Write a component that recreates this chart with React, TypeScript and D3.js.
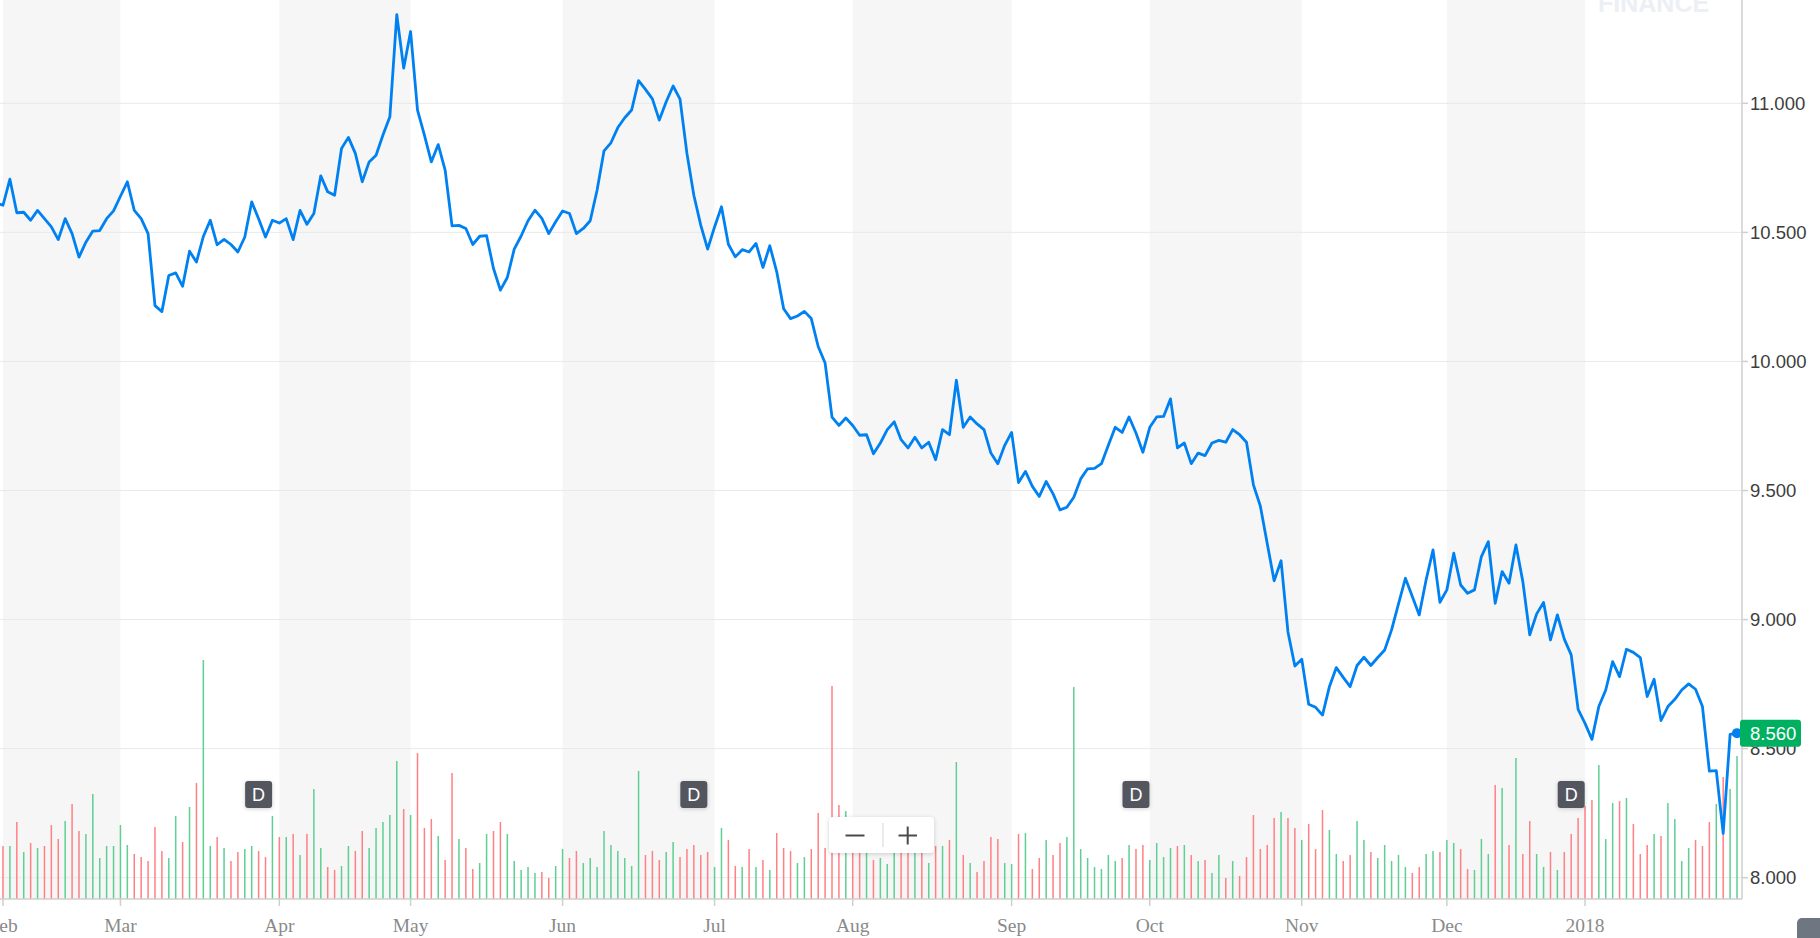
import * as d3 from 'd3';

const width = 1820;
const height = 938;
const plotRight = 1742;
const plotBottom = 899;

// closing prices, first value is the day before the first bar (index -1)
const closes = [
  10.615,
  10.605, 10.706, 10.576, 10.578, 10.547, 10.585, 10.553, 10.521, 10.472, 10.553,
  10.495, 10.404, 10.462, 10.505, 10.507, 10.553, 10.583, 10.64, 10.696, 10.585,
  10.553, 10.495, 10.216, 10.193, 10.333, 10.343, 10.291, 10.427, 10.385, 10.484,
  10.547, 10.452, 10.473, 10.453, 10.424, 10.482, 10.618, 10.553, 10.482, 10.547,
  10.536, 10.553, 10.472, 10.585, 10.531, 10.573, 10.719, 10.657, 10.644, 10.825,
  10.868, 10.806, 10.696, 10.773, 10.799, 10.877, 10.948, 11.343, 11.136, 11.278,
  10.974, 10.877, 10.773, 10.84, 10.741, 10.525, 10.527, 10.515, 10.453, 10.485,
  10.487, 10.36, 10.276, 10.325, 10.435, 10.486, 10.545, 10.586, 10.554, 10.495,
  10.541, 10.583, 10.573, 10.495, 10.515, 10.545, 10.664, 10.816, 10.847, 10.906,
  10.944, 10.974, 11.088, 11.054, 11.017, 10.935, 11.006, 11.067, 11.016, 10.806,
  10.644, 10.528, 10.435, 10.521, 10.599, 10.454, 10.405, 10.433, 10.424, 10.457,
  10.364, 10.448, 10.347, 10.204, 10.166, 10.176, 10.194, 10.166, 10.058, 9.994,
  9.784, 9.752, 9.781, 9.752, 9.714, 9.716, 9.642, 9.684, 9.736, 9.766,
  9.697, 9.665, 9.706, 9.665, 9.687, 9.619, 9.736, 9.716, 9.927, 9.745,
  9.785, 9.758, 9.736, 9.645, 9.604, 9.675, 9.725, 9.531, 9.574, 9.516,
  9.477, 9.535, 9.487, 9.425, 9.435, 9.474, 9.545, 9.584, 9.586, 9.604,
  9.675, 9.745, 9.725, 9.785, 9.723, 9.648, 9.745, 9.785, 9.787, 9.855,
  9.665, 9.684, 9.604, 9.645, 9.635, 9.684, 9.694, 9.687, 9.736, 9.716,
  9.687, 9.522, 9.44, 9.295, 9.15, 9.228, 8.952, 8.82, 8.846, 8.672,
  8.66, 8.63, 8.74, 8.814, 8.776, 8.74, 8.822, 8.854, 8.822, 8.853,
  8.882, 8.96, 9.061, 9.16, 9.089, 9.018, 9.154, 9.27, 9.067, 9.115,
  9.257, 9.134, 9.102, 9.115, 9.244, 9.302, 9.063, 9.186, 9.141, 9.289,
  9.147, 8.941, 9.022, 9.066, 8.921, 9.018, 8.924, 8.863, 8.652, 8.598,
  8.536, 8.663, 8.727, 8.837, 8.779, 8.885, 8.873, 8.853, 8.702, 8.769,
  8.609, 8.663, 8.691, 8.727, 8.751, 8.73, 8.663, 8.413, 8.415, 8.172,
  8.555, 8.56,
];

// volume (millions), same indexing as closes
const volumes = [
  5.0,
  5.3, 5.3, 7.7, 4.7, 5.6, 5.1, 5.3, 7.4, 6.0, 7.8,
  9.5, 6.8, 6.5, 10.5, 4.1, 5.3, 5.3, 7.4, 5.4, 4.5,
  4.2, 3.8, 7.2, 4.8, 4.1, 8.3, 5.7, 9.2, 11.6, 23.9,
  5.3, 6.2, 5.1, 3.8, 4.7, 5.0, 5.3, 4.8, 4.2, 8.3,
  6.2, 6.2, 6.5, 4.4, 6.5, 11.0, 5.1, 3.2, 2.9, 3.3,
  5.3, 4.8, 6.8, 5.1, 7.1, 7.7, 8.4, 13.8, 9.0, 8.4,
  14.6, 7.1, 8.0, 6.3, 3.9, 12.6, 6.0, 5.1, 3.0, 3.6,
  6.5, 6.8, 7.7, 6.5, 3.8, 2.9, 3.2, 2.6, 2.7, 2.1,
  3.3, 5.0, 4.1, 4.8, 3.6, 4.1, 3.2, 6.8, 5.4, 4.8,
  4.1, 3.3, 12.8, 4.4, 4.8, 3.9, 4.7, 5.7, 4.2, 5.0,
  5.4, 4.4, 4.7, 3.2, 7.1, 5.9, 3.3, 3.2, 5.0, 3.2,
  3.9, 2.9, 6.6, 5.1, 4.8, 3.6, 4.2, 5.0, 8.6, 5.1,
  21.3, 9.4, 8.8, 5.5, 5.5, 5.5, 3.9, 4.1, 3.5, 5.5,
  5.5, 5.5, 5.5, 5.5, 3.6, 5.3, 5.3, 5.9, 13.7, 4.4,
  3.6, 2.7, 3.8, 6.2, 6.0, 3.6, 3.5, 6.5, 6.6, 3.0,
  4.1, 5.9, 4.4, 5.6, 6.2, 21.2, 5.0, 4.1, 3.2, 3.0,
  4.4, 3.8, 4.1, 5.4, 5.0, 5.4, 3.9, 5.6, 4.2, 5.1,
  5.3, 5.4, 4.4, 3.8, 3.9, 2.6, 4.4, 2.1, 3.8, 2.3,
  4.2, 8.4, 5.0, 5.4, 8.1, 8.7, 8.1, 7.1, 5.9, 7.5,
  5.0, 8.9, 6.9, 4.5, 3.8, 4.4, 7.8, 5.9, 4.7, 4.1,
  5.4, 3.8, 4.4, 3.2, 2.6, 3.2, 4.5, 4.8, 4.7, 5.9,
  5.6, 5.0, 3.0, 2.9, 6.0, 4.5, 11.4, 11.1, 5.4, 14.1,
  4.5, 7.8, 4.5, 3.2, 4.7, 2.9, 4.7, 6.5, 8.1, 9.3,
  9.9, 13.4, 6.0, 9.6, 9.8, 10.1, 7.5, 4.5, 5.4, 6.5,
  6.3, 9.6, 8.0, 3.8, 5.1, 5.9, 5.3, 7.7, 9.5, 12.2,
  11.0, 14.3,
];

const monthLabels = ['Feb', 'Mar', 'Apr', 'May', 'Jun', 'Jul', 'Aug', 'Sep', 'Oct', 'Nov', 'Dec', '2018'];
const monthStarts = [0, 17, 40, 59, 81, 103, 123, 146, 166, 188, 209, 229];
const priceTicks = [8, 8.5, 9, 9.5, 10, 10.5, 11];
const dividendDays = [37, 100, 164, 227];
const lastPrice = 8.56;

const x = d3.scaleLinear().domain([0, 251]).range([3, 1737]);
const y = d3.scaleLinear().domain([8, 11]).range([877.7, 103.3]);
const vol = d3.scaleLinear().domain([0, 25]).range([plotBottom, 649]);

const day = (k: number) => k - 1;

const line = d3
  .line<number>()
  .x((_, k) => x(day(k)))
  .y((d) => y(d));

const sansFont = '"Liberation Sans", Arial, sans-serif';
const serifFont = '"Liberation Serif", "Times New Roman", serif';

export default function App() {
  const lastIdx = closes.length - 1;
  return (
    <svg
      width={width}
      height={height}
      style={{ position: 'absolute', left: 0, top: 0, background: '#fff' }}
    >
      <defs>
        <filter id="shadow" x="-20%" y="-30%" width="140%" height="160%">
          <feDropShadow dx="0" dy="1" stdDeviation="2" floodColor="#000" floodOpacity="0.18" />
        </filter>
      </defs>

      {/* 月ごとの背景帯 */}
      {monthStarts.map((s, k) =>
        k % 2 === 0 && k + 1 < monthStarts.length ? (
          <rect
            key={`band-${k}`}
            x={x(s)}
            y={0}
            width={x(monthStarts[k + 1]) - x(s)}
            height={plotBottom}
            fill="#f6f6f6"
          />
        ) : null
      )}

      {/* watermark */}
      <text x={1598} y={11.5} fontFamily={sansFont} fontWeight="bold" fontSize={25} fill="#eceff3">
        FINANCE
      </text>

      {/* グリッド線 */}
      {priceTicks.map((t) => (
        <line
          key={`grid-${t}`}
          x1={0}
          x2={plotRight}
          y1={y(t)}
          y2={y(t)}
          stroke="#e9e9e9"
          strokeWidth={1}
        />
      ))}

      {/* 出来高 */}
      {volumes.map((v, k) => {
        if (k === 0) return null;
        const up = closes[k] >= closes[k - 1];
        return (
          <rect
            key={`vol-${k}`}
            x={x(day(k)) - 0.75}
            y={vol(v)}
            width={1.5}
            height={plotBottom - vol(v)}
            fill={up ? '#5fcf94' : '#ff8085'}
          />
        );
      })}

      {/* axes */}
      <line x1={0} x2={plotRight} y1={plotBottom} y2={plotBottom} stroke="#cfcfcf" strokeWidth={1.5} />
      <line x1={plotRight} x2={plotRight} y1={0} y2={plotBottom} stroke="#cfcfcf" strokeWidth={1.5} />
      {monthStarts.map((s, k) => (
        <g key={`xt-${k}`}>
          <line x1={x(s)} x2={x(s)} y1={plotBottom} y2={plotBottom + 7} stroke="#cfcfcf" strokeWidth={1.5} />
          <text
            x={x(s)}
            y={932}
            textAnchor="middle"
            fontFamily={serifFont}
            fontSize={19.5}
            fill="#8a8a8a"
          >
            {monthLabels[k]}
          </text>
        </g>
      ))}
      {priceTicks.map((t) => (
        <g key={`yt-${t}`}>
          <line x1={plotRight} x2={plotRight + 6} y1={y(t)} y2={y(t)} stroke="#cfcfcf" strokeWidth={1.5} />
          <text
            x={1750}
            y={y(t)}
            dy="0.35em"
            fontFamily={sansFont}
            fontSize={18.5}
            fill="#3d3d3d"
          >
            {d3.format('.3f')(t)}
          </text>
        </g>
      ))}

      {/* 終値の折れ線 */}
      <path
        d={line(closes) ?? ''}
        fill="none"
        stroke="#0081f2"
        strokeWidth={2.8}
        strokeLinejoin="round"
      />
      <circle cx={x(day(lastIdx))} cy={y(lastPrice)} r={5} fill="#0081f2" />

      {/* current price tag */}
      <rect x={1740} y={y(lastPrice) - 13.5} width={61} height={27} rx={3} fill="#00b061" />
      <text
        x={1750}
        y={y(lastPrice)}
        dy="0.36em"
        fontFamily={sansFont}
        fontSize={18.5}
        fill="#ffffff"
      >
        {d3.format('.3f')(lastPrice)}
      </text>

      {/* dividend markers */}
      {dividendDays.map((d) => (
        <g key={`div-${d}`} transform={`translate(${x(d)},794.5)`}>
          <rect x={-13.5} y={-13.5} width={27} height={27} rx={3} fill="#52575e" filter="url(#shadow)" />
          <text textAnchor="middle" dy="0.36em" fontFamily={sansFont} fontSize={18} fill="#ffffff">
            D
          </text>
        </g>
      ))}

      {/* zoom control */}
      <g>
        <rect x={829} y={817} width={105} height={36} rx={4} fill="#ffffff" filter="url(#shadow)" />
        <line x1={883} x2={883} y1={823} y2={847} stroke="#dddddd" strokeWidth={1.2} />
        <line x1={845.5} x2={864.5} y1={835.5} y2={835.5} stroke="#4a4a4a" strokeWidth={2} />
        <line x1={898.5} x2={917} y1={835.5} y2={835.5} stroke="#4a4a4a" strokeWidth={2} />
        <line x1={907.7} x2={907.7} y1={826.5} y2={844.5} stroke="#4a4a4a" strokeWidth={2} />
      </g>

      {/* bottom-right button */}
      <rect x={1797} y={918} width={40} height={40} rx={5} fill="#6d7681" />
    </svg>
  );
}
